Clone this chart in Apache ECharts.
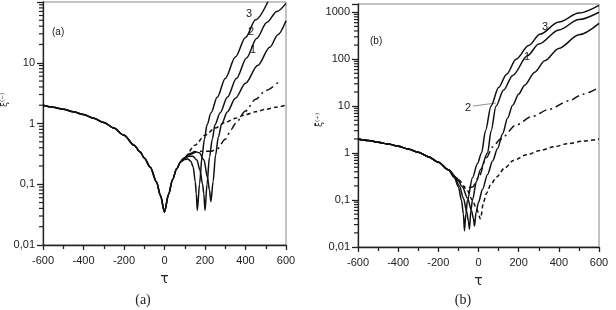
<!DOCTYPE html>
<html>
<head>
<meta charset="utf-8">
<script src="https://cdn.jsdelivr.net/npm/echarts@6/dist/echarts.min.js"></script>
<style>
  html, body { margin: 0; padding: 0; background: #fff; }
  #chart { width: 616px; height: 310px; }
</style>
</head>
<body>
<div id="chart"></div>
<script>
// y tick labels (decimal comma, as in the figure)
const yLabelsA = { "-2": "0,01", "-1": "0,1", "0": "1", "1": "10" };
const yLabelsB = { "-2": "0,01", "-1": "0,1", "0": "1", "1": "10", "2": "100", "3": "1000" };

// shared branch for tau < 0 (both panels)
const common = [[-600, 2.0], [-550, 1.86], [-500, 1.71], [-450, 1.56], [-400, 1.4], [-350, 1.22],
  [-300, 1.04], [-250, 0.84], [-200, 0.64], [-150, 0.44]];

// panel (a)
const aDip = [[-120, 0.34], [-100, 0.27], [-70, 0.19], [-40, 0.11], [-20, 0.065], [0, 0.035],
  [20, 0.068], [40, 0.12], [60, 0.18], [80, 0.235]];
const a3 = [[100, 0.255], [115, 0.26], [130, 0.24], [142, 0.19], [152, 0.11], [157, 0.07], [162, 0.037],
  [173, 0.1], [185, 0.28], [197, 0.55], [210, 0.95], [230, 1.5], [260, 2.7], [300, 5.5], [350, 12.4],
  [400, 26], [450, 51], [511, 102]];
const a2 = [[100, 0.265], [120, 0.29], [140, 0.29], [160, 0.25], [175, 0.17], [188, 0.1], [194, 0.07], [200, 0.037],
  [210, 0.1], [222, 0.28], [236, 0.55], [249, 0.95], [275, 1.5], [310, 2.7], [355, 5.5], [405, 12],
  [455, 25], [505, 46], [555, 70], [600, 95]];
const a1 = [[100, 0.275], [125, 0.32], [150, 0.345], [172, 0.33], [195, 0.25], [212, 0.13], [222, 0.08], [229, 0.052],
  [240, 0.11], [252, 0.3], [266, 0.6], [283, 1.0], [310, 1.55], [350, 2.6], [400, 4.6], [460, 9],
  [520, 18], [560, 29], [600, 49]];
const aDash = [[80, 0.235], [100, 0.28], [150, 0.44], [200, 0.64], [250, 0.84], [300, 1.04], [350, 1.22],
  [400, 1.4], [450, 1.56], [500, 1.71], [550, 1.86], [600, 2.0]];
const aDashDot = [[120, 0.3], [175, 0.35], [230, 0.35], [260, 0.38], [300, 0.55], [330, 0.8], [350, 1.0],
  [400, 1.6], [450, 2.5], [500, 3.5], [565, 4.9]];

// panel (b)
const b3 = [[-120, 0.3], [-100, 0.19], [-85, 0.1], [-75, 0.05], [-70, 0.022], [-63, 0.05], [-55, 0.1], [-30, 0.3],
  [-5, 0.6], [15, 1], [35, 3], [62, 10], [100, 25], [140, 48], [187, 100], [250, 195], [306, 340],
  [400, 620], [500, 960], [600, 1400]];
const b2 = [[-120, 0.31], [-95, 0.2], [-75, 0.11], [-60, 0.06], [-50, 0.035], [-45, 0.024], [-38, 0.06], [-30, 0.1],
  [-10, 0.25], [10, 0.45], [45, 1], [63, 3], [87, 10], [125, 22], [170, 45], [245, 120], [300, 210],
  [400, 420], [500, 700], [600, 1000]];
const b1 = [[-110, 0.3], [-80, 0.19], [-55, 0.11], [-35, 0.06], [-25, 0.04], [-20, 0.028], [-12, 0.055], [0, 0.09],
  [20, 0.17], [45, 0.35], [70, 0.68], [95, 1.25], [120, 2.6], [145, 5.6], [170, 10.5], [200, 18], [230, 28],
  [280, 53], [330, 93], [400, 170], [500, 330], [600, 580]];
const bDash = [[-100, 0.27], [-60, 0.17], [-30, 0.1], [-10, 0.065], [10, 0.04], [25, 0.09], [40, 0.14], [60, 0.21],
  [90, 0.31], [130, 0.48], [174, 0.7], [240, 0.92], [306, 1.14], [380, 1.37], [440, 1.58], [520, 1.8], [600, 2.0]];
const bDashDot = [[-100, 0.26], [-60, 0.18], [-30, 0.19], [0, 0.3], [40, 0.8], [70, 1.35], [110, 2.0], [190, 4.0],
  [265, 6.0], [350, 8.5], [450, 13], [520, 18], [600, 25]];

const yRangeA = [0.01, 100];
const yRangeB = [0.01, 1500];

// minor log ticks 2..9 x 10^k inside the axis range
function minorTicks(range) {
  const out = [];
  for (let k = -2; k <= 3; k++) {
    for (let m = 2; m <= 9; m++) {
      const v = m * Math.pow(10, k);
      if (v > range[0] && v < range[1]) out.push([-600, v]);
    }
  }
  return out;
}

const ink = "#222";
const font = "Liberation Sans";

function xAxis(idx) {
  return {
    type: "value", gridIndex: idx, min: -600, max: 600, interval: 200,
    name: "τ", nameLocation: "middle", nameGap: 27,
    nameTextStyle: { color: ink, fontSize: 14, fontFamily: "DejaVu Sans" },
    axisLine: { show: true, onZero: false, lineStyle: { color: "#222", width: 1.3 } },
    axisTick: { show: true, length: 5, lineStyle: { color: "#222", width: 1.3 } },
    minorTick: { show: true, splitNumber: 2, length: 4, lineStyle: { color: "#222", width: 1.3 } },
    axisLabel: { color: ink, fontSize: 11, fontFamily: font, margin: 10 },
    splitLine: { show: false }
  };
}

function yAxis(idx, range, labels) {
  return {
    type: "log", logBase: 10, gridIndex: idx, min: range[0], max: range[1],
    axisLine: { show: true, onZero: false, lineStyle: { color: "#222", width: 1.3 } },
    axisTick: { show: true, length: 6, lineStyle: { color: "#222", width: 1.3 } },
    axisLabel: {
      color: ink, fontSize: 11, fontFamily: font, margin: 8,
      formatter: v => {
        const e = Math.log10(v);
        const r = Math.round(e);
        return Math.abs(e - r) < 1e-6 && labels[r] !== undefined ? labels[r] : "";
      }
    },
    splitLine: { show: false }
  };
}

function line(data, xi, type) {
  const s = {
    type: "line", xAxisIndex: xi, yAxisIndex: xi, data: data, showSymbol: false,
    smooth: 0.3, smoothMonotone: "x", silent: true, animation: false,
    lineStyle: { color: "#111", width: 1.5, type: "solid" }
  };
  if (type === "dash") s.lineStyle.type = [4, 3];
  if (type === "dashdot") s.lineStyle.type = [8, 4, 2, 4];
  return s;
}

function minorSeries(xi, range) {
  return {
    type: "custom", xAxisIndex: xi, yAxisIndex: xi, data: minorTicks(range), silent: true, clip: false, z: 5,
    renderItem: (params, api) => {
      const p = api.coord([api.value(0), api.value(1)]);
      return {
        type: "line",
        shape: { x1: p[0] - 4, y1: p[1], x2: p[0], y2: p[1] },
        style: { stroke: "#222", lineWidth: 1.2 }
      };
    }
  };
}

const chart = echarts.init(document.getElementById("chart"));

chart.setOption({
  animation: false,
  backgroundColor: "#fff",
  grid: [
    { left: 43, top: 2, width: 243, height: 243, show: true, borderColor: "#888", borderWidth: 1 },
    { left: 358, top: 4, width: 241, height: 243, show: true, borderColor: "#888", borderWidth: 1 }
  ],
  xAxis: [xAxis(0), xAxis(1)],
  yAxis: [yAxis(0, yRangeA, yLabelsA), yAxis(1, yRangeB, yLabelsB)],
  series: [
    minorSeries(0, yRangeA),
    minorSeries(1, yRangeB),
    line(common.concat(aDip, a3), 0),
    line(common.concat(aDip, a2), 0),
    line(common.concat(aDip, a1), 0),
    line(aDash, 0, "dash"),
    line(aDashDot, 0, "dashdot"),
    line(common.concat(b3), 1),
    line(common.concat(b2), 1),
    line(common.concat(b1), 1),
    line(common.concat(bDash), 1, "dash"),
    line(common.concat(bDashDot), 1, "dashdot")
  ],
  graphic: [
    { type: "text", x: 52, y: 27, style: { text: "(a)", font: "10px Liberation Sans", fill: ink } },
    { type: "text", x: 370, y: 36, style: { text: "(b)", font: "10px Liberation Sans", fill: ink } },
    { type: "text", x: 246, y: 8, style: { text: "3", font: "11px Liberation Sans", fill: ink } },
    { type: "text", x: 248, y: 26, style: { text: "2", font: "11px Liberation Sans", fill: ink } },
    { type: "text", x: 250, y: 44, style: { text: "1", font: "11px Liberation Sans", fill: ink } },
    { type: "text", x: 542, y: 21, style: { text: "3", font: "11px Liberation Sans", fill: ink } },
    { type: "text", x: 524, y: 51, style: { text: "1", font: "11px Liberation Sans", fill: ink } },
    { type: "text", x: 465, y: 102, style: { text: "2", font: "11px Liberation Sans", fill: ink } },
    { type: "line", shape: { x1: 473, y1: 106, x2: 496, y2: 103 }, style: { stroke: "#777", lineWidth: 0.8 } },
    { type: "text", x: 5, y: 100, rotation: Math.PI / 2, style: { text: "ξ̄⁽⁻⁾", font: "9px DejaVu Sans", fill: ink, align: "center", verticalAlign: "middle" } },
    { type: "text", x: 320, y: 120, rotation: Math.PI / 2, style: { text: "ξ̄⁽⁺⁾", font: "9px DejaVu Sans", fill: ink, align: "center", verticalAlign: "middle" } },
    { type: "text", x: 143, y: 300, style: { text: "(a)", font: "14px Liberation Serif", fill: ink, align: "center", verticalAlign: "middle" } },
    { type: "text", x: 463, y: 300, style: { text: "(b)", font: "14px Liberation Serif", fill: ink, align: "center", verticalAlign: "middle" } }
  ]
});
</script>
</body>
</html>
